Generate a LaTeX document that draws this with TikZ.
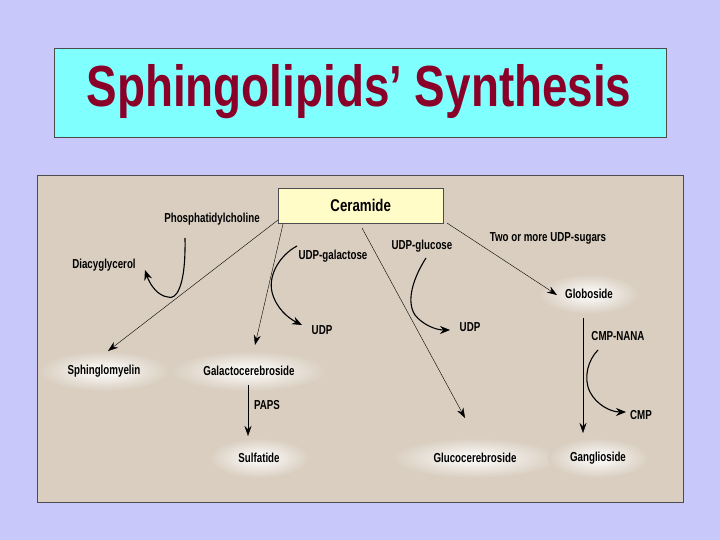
\documentclass[tikz,border=0pt]{standalone}
\usepackage{fontspec}
\setmainfont{Liberation Sans}
\usetikzlibrary{arrows.meta,shapes.geometric}
\definecolor{bgc}{HTML}{C8C8FA}
\definecolor{tan}{HTML}{D9CEC0}
\definecolor{ttl}{HTML}{8B0028}
\definecolor{cyb}{HTML}{80FFFF}
\begin{document}
\begin{tikzpicture}[x=1pt,y=-1pt,
  lbl/.style={font=\bfseries\fontsize{13}{15}\selectfont,inner sep=0pt},
  glow/.style={ellipse,inner color=white,outer color=tan,minimum width=#1,minimum height=40,inner sep=0pt},
  arr/.style={-{Stealth[length=10pt,width=7pt]},thin},
  carr/.style={-{Stealth[length=10pt,width=8pt]},line width=1.1pt}]
\useasboundingbox (0,0) rectangle (720,540);
\fill[bgc] (0,0) rectangle (720,540);
\node[draw=gray!60!black,fill=cyb,minimum width=612,minimum height=89,anchor=north west,inner sep=0pt] (title) at (54,48) {};
\node[text=ttl,font=\bfseries\fontsize{58}{62}\selectfont] (tt) at (359,92) {\scalebox{0.79}[1]{Sphingolipids’ Synthesis}};
\node[draw=black!70,fill=tan,minimum width=646,minimum height=327,anchor=north west,inner sep=0pt] (panel) at (37,175) {};
\node[draw=black!70,fill=yellow!22,minimum width=165,minimum height=35,anchor=north west,inner sep=0pt,font=\bfseries\fontsize{17}{19}\selectfont] (cer) at (278,188) {\scalebox{0.78}[1]{Ceramide}};
\node[glow=130] (sph) at (104,371) {};
\node[lbl] at (sph) {\scalebox{0.75}[1]{Sphinglomyelin}};
\node[glow=155] (gal) at (249,371) {};
\node[lbl] at (gal) {\scalebox{0.75}[1]{Galactocerebroside}};
\node[glow=100] (sul) at (259,458) {};
\node[lbl] at (sul) {\scalebox{0.75}[1]{Sulfatide}};
\node[glow=165] (glu) at (475,458) {};
\node[lbl] at (glu) {\scalebox{0.75}[1]{Glucocerebroside}};
\node[glow=100] (glo) at (589,294) {};
\node[lbl] at (glo) {\scalebox{0.75}[1]{Globoside}};
\node[glow=100] (gan) at (598,458) {};
\node[lbl] at (gan) {\scalebox{0.75}[1]{Ganglioside}};
\node[lbl] (pc) at (212,219) {\scalebox{0.75}[1]{Phosphatidylcholine}};
\node[lbl] (dag) at (104,265) {\scalebox{0.75}[1]{Diacyglycerol}};
\node[lbl] (udpgal) at (333,256) {\scalebox{0.75}[1]{UDP-galactose}};
\node[lbl] (udp1) at (322,330) {\scalebox{0.75}[1]{UDP}};
\node[lbl] (udpglc) at (422,246) {\scalebox{0.75}[1]{UDP-glucose}};
\node[lbl] (udp2) at (470,327) {\scalebox{0.75}[1]{UDP}};
\node[lbl] (two) at (548,238) {\scalebox{0.75}[1]{Two or more UDP-sugars}};
\node[lbl] (nana) at (618,336) {\scalebox{0.75}[1]{CMP-NANA}};
\node[lbl] (cmp) at (641,415) {\scalebox{0.75}[1]{CMP}};
\node[lbl] (paps) at (267,405) {\scalebox{0.75}[1]{PAPS}};
\coordinate (c1) at (278,220);
\coordinate (c2) at (283,224);
\coordinate (c3) at (362,228);
\coordinate (c4) at (447,223);
\draw[arr] (c1) -- (108,351);
\draw[arr] (c2) -- (255,345);
\draw[arr] (c3) -- (465,418);
\draw[arr] (c4) -- (557,295);
\draw[arr] (583,318) -- (583,433);
\draw[arr] (248,385) -- (248,436);
\draw[carr] (185,238) .. controls (186,290) and (175,300) .. (168,297) .. controls (158,296) and (150,285) .. (145,270);
\draw[carr] (297,246) .. controls (280,255) and (268,275) .. (272,292) .. controls (276,308) and (288,318) .. (302,325);
\draw[carr] (426,258) .. controls (415,275) and (405,300) .. (415,315) .. controls (422,324) and (435,330) .. (450,330);
\draw[carr] (598,350) .. controls (588,360) and (583,378) .. (590,392) .. controls (596,404) and (610,412) .. (626,412);
\end{tikzpicture}
\end{document}
